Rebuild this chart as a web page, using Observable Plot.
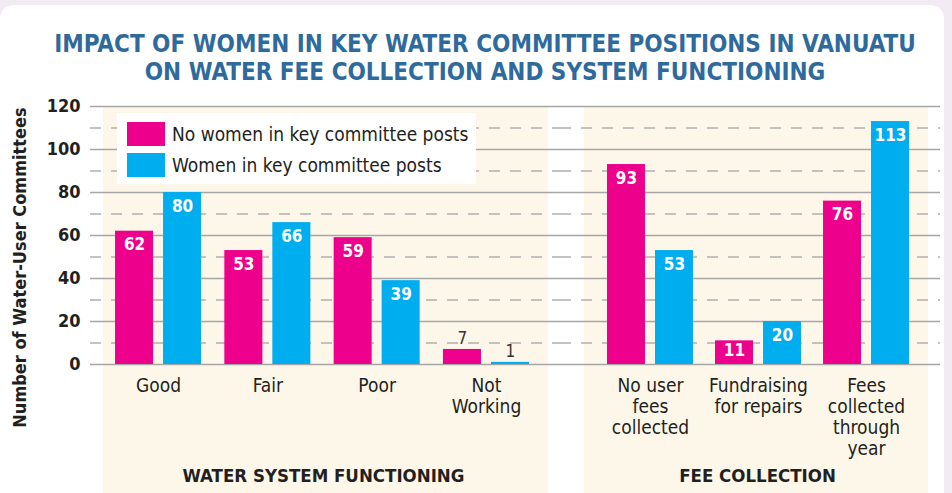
<!DOCTYPE html>
<html>
<head>
<meta charset="utf-8">
<script src="https://cdn.jsdelivr.net/npm/d3@7"></script>
<script src="https://cdn.jsdelivr.net/npm/@observablehq/plot@0.6"></script>
<style>
  html, body { margin: 0; padding: 0; }
  body { width: 952px; height: 493px; background: #f3ebf4; overflow: hidden; position: relative;
         font-family: "DejaVu Sans Condensed", "Liberation Sans Narrow", sans-serif; }
  #card { position: absolute; left: 0; top: 5px; width: 944px; height: 520px; background: #fff; border-radius: 14px; }
  #title { position: absolute; left: 20px; top: 30px; width: 930px; text-align: center; color: #2f6a9c;
           font-weight: bold; font-size: 24px; line-height: 28px; white-space: nowrap; }
  .panel { position: absolute; top: 107px; height: 400px; background: #fdf7ea; }
  .plotbox { position: absolute; top: 95px; }
  #legend { position: absolute; left: 117px; top: 113px; width: 359px; height: 71px; background: #fff; z-index: 5; }
  .lg-row { position: absolute; left: 10px; display: flex; align-items: center; white-space: nowrap; }
  .sw { width: 38px; height: 24px; margin-right: 7px; }
  .lg-txt { font-size: 19px; color: #231f20; }
</style>
</head>
<body>
<div id="card"></div>
<div id="title"></div>
<div class="panel" style="left:103px;width:445px"></div>
<div class="panel" style="left:584px;width:344px"></div>
<div id="plotA" class="plotbox" style="left:0px"></div>
<div id="plotB" class="plotbox" style="left:560px"></div>
<div id="legend"></div>
<script>
// ---- data ----
const titleLines = ["IMPACT OF WOMEN IN KEY WATER COMMITTEE POSITIONS IN VANUATU",
                    "ON WATER FEE COLLECTION AND SYSTEM FUNCTIONING"];
const yLabel = "Number of Water-User Committees";
const seriesNames = ["No women in key committee posts", "Women in key committee posts"];
const sectionNames = ["WATER SYSTEM FUNCTIONING", "FEE COLLECTION"];
const categoriesA = ["Good", "Fair", "Poor", "Not\nWorking"];
const noWomenA = [62, 53, 59, 7];
const womenA = [80, 66, 39, 1];
const categoriesB = ["No user\nfees\ncollected", "Fundraising\nfor repairs", "Fees\ncollected\nthrough\nyear"];
const noWomenB = [93, 11, 76];
const womenB = [53, 20, 113];
const yTicks = [0, 20, 40, 60, 80, 100, 120];
const yMinorTicks = [10, 30, 50, 70, 90, 110];

// ---- styles ----
const FONT = '"DejaVu Sans Condensed", "Liberation Sans Narrow", sans-serif';
const PINK = "#ec008c", BLUE = "#00aeef", INK = "#231f20";

document.getElementById("title").innerHTML = titleLines.join("<br>");
document.getElementById("legend").innerHTML =
  `<div class="lg-row" style="top:9px"><div class="sw" style="background:${PINK}"></div><span class="lg-txt">${seriesNames[0]}</span></div>` +
  `<div class="lg-row" style="top:40px"><div class="sw" style="background:${BLUE}"></div><span class="lg-txt">${seriesNames[1]}</span></div>`;

function makePlot({cats, no, yes, width, marginLeft, marginRight, insetLeft, insetRight,
                   paddingInner, paddingOuter, section, sectionDx, withAxis}) {
  const rows = cats.flatMap((c, i) => [
    {cat: c, s: 0, v: no[i]},
    {cat: c, s: 1, v: yes[i]}
  ]);
  const inside = d => d.v >= 10;
  const outsideText = s => Plot.text(rows.filter(d => d.s === s && !inside(d)), {
    x: "cat", y: "v", text: d => String(d.v), dx: s === 0 ? -24 : 24,
    dy: -5, lineAnchor: "bottom", fill: "#333", fontSize: 17
  });
  const marks = [
    Plot.ruleY(yMinorTicks, {stroke: "#b0b0b0", strokeWidth: 1.5, strokeDasharray: "11,10"}),
    Plot.ruleY(yTicks, {stroke: "#a6a6a6", strokeWidth: 1.6}),
    Plot.barY(rows.filter(d => d.s === 0), {x: "cat", y: "v", fill: PINK, insetRight: 48}),
    Plot.barY(rows.filter(d => d.s === 1), {x: "cat", y: "v", fill: BLUE, insetLeft: 48}),
    // inside value labels (short bars get a smaller top offset)
    Plot.text(rows.filter(d => d.s === 0 && inside(d) && d.v < 15), {x: "cat", y: "v", text: d => String(d.v), dx: -24,
      dy: 3, lineAnchor: "top", fill: "white", fontWeight: "bold", fontSize: 17}),
    Plot.text(rows.filter(d => d.s === 0 && inside(d) && d.v >= 15), {x: "cat", y: "v", text: d => String(d.v), dx: -24,
      dy: 7, lineAnchor: "top", fill: "white", fontWeight: "bold", fontSize: 17}),
    Plot.text(rows.filter(d => d.s === 1 && inside(d)), {x: "cat", y: "v", text: d => String(d.v), dx: 24,
      dy: 7, lineAnchor: "top", fill: "white", fontWeight: "bold", fontSize: 17}),
    outsideText(0),
    outsideText(1),
    // category labels
    Plot.text(cats, {x: d => d, frameAnchor: "bottom", lineAnchor: "top", dy: 13, text: d => d,
      fontSize: 19, lineHeight: 1.1, fill: INK}),
    // section label
    Plot.text([section], {frameAnchor: "bottom", lineAnchor: "top", dy: 104, dx: sectionDx, text: d => d,
      fontSize: 18.5, fontWeight: "bold", fill: INK})
  ];
  if (withAxis) {
    marks.push(
      Plot.text(yTicks, {y: d => d, frameAnchor: "left", textAnchor: "end", dx: -10, text: d => String(d),
        fontSize: 18, fontWeight: "bold", fill: INK}),
      Plot.text([yLabel], {frameAnchor: "left", textAnchor: "middle", rotate: -90, dx: -70, dy: 32, text: d => d,
        fontSize: 18, fontWeight: "bold", fill: INK})
    );
  }
  return Plot.plot({
    width, height: 398, marginTop: 11, marginBottom: 129, marginLeft, marginRight,
    style: {background: "transparent", fontFamily: FONT, overflow: "visible"},
    x: {type: "band", domain: cats, paddingInner, paddingOuter, insetLeft, insetRight, round: false, axis: null},
    y: {domain: [0, 120], axis: null},
    marks
  });
}

document.getElementById("plotA").appendChild(makePlot({
  cats: categoriesA, no: noWomenA, yes: womenA, width: 560, marginLeft: 90, marginRight: 0,
  insetLeft: 0, insetRight: 6, paddingInner: 0.213, paddingOuter: 0.229,
  section: sectionNames[0], sectionDx: -2, withAxis: true
}));
document.getElementById("plotB").appendChild(makePlot({
  cats: categoriesB, no: noWomenB, yes: womenB, width: 392, marginLeft: 0, marginRight: 12,
  insetLeft: 25.4, insetRight: 9.4, paddingInner: 0.204, paddingOuter: 0.2,
  section: sectionNames[1], sectionDx: 7, withAxis: false
}));
</script>
</body>
</html>
